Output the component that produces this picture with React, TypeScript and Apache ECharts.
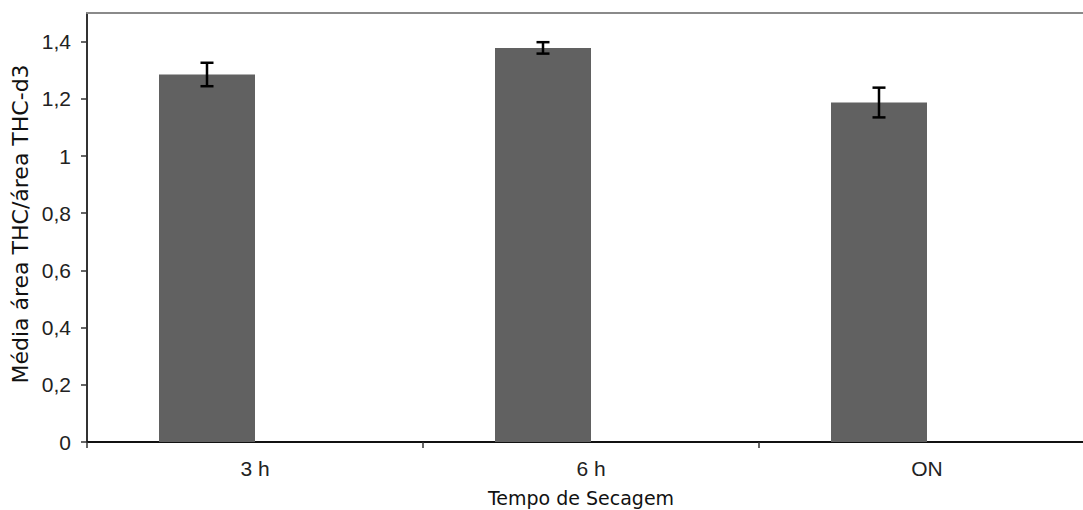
import React, { useEffect, useRef } from "react";
import * as echarts from "echarts";

const categories = ["3 h", "6 h", "ON"];
const means = [1.285, 1.378, 1.187];
const errors = [0.041, 0.02, 0.052];
const emptySeries = ["-", "-", "-"];
const yTitle = "Média área THC/área THC-d3";
const xTitle = "Tempo de Secagem";

const BAR_W = 96;

export default function App() {
  const ref = useRef<HTMLDivElement>(null);
  useEffect(() => {
    const chart = echarts.init(ref.current!, null, { renderer: "svg" });
    const errData = means.map((m, i) => [i, m - errors[i], m + errors[i]]);
    chart.setOption({
      animation: false,
      backgroundColor: "#ffffff",
      grid: { left: 87, right: 0, top: 13, bottom: 68 },
      xAxis: [
        {
          type: "category",
          data: categories,
          boundaryGap: true,
          axisLine: { lineStyle: { color: "#111", width: 2 } },
          axisTick: { show: true, length: 6, lineStyle: { color: "#333", width: 1.5 } },
          axisLabel: {
            color: "#222",
            fontFamily: "Liberation Sans, Arial",
            fontSize: 21,
            margin: 16,
          },
          splitLine: { show: false },
        },
        {
          type: "category",
          data: categories,
          position: "top",
          axisLine: { show: true, lineStyle: { color: "#8a8a8a", width: 2 } },
          axisTick: { show: false },
          axisLabel: { show: false },
        },
      ],
      yAxis: {
        type: "value",
        min: 0,
        max: 1.5,
        interval: 0.2,
        axisLine: { show: true, lineStyle: { color: "#333", width: 2 } },
        axisTick: { show: true, length: 6, lineStyle: { color: "#333", width: 1.5 } },
        splitLine: { show: false },
        axisLabel: {
          showMaxLabel: false,
          color: "#222",
          fontFamily: "Liberation Sans, Arial",
          fontSize: 21,
          margin: 16,
          formatter: (v: number) => {
            if (Math.abs(v - 1.5) < 1e-6) return "";
            const r = Math.round(v * 10) / 10;
            return String(r).replace(".", ",");
          },
        },
      },
      graphic: [
        {
          type: "text",
          x: 581,
          y: 498,
          style: {
            text: xTitle,
            fontFamily: "DejaVu Sans",
            fontSize: 19,
            fill: "#111",
            align: "center",
            verticalAlign: "middle",
          },
        },
        {
          type: "text",
          x: 20,
          y: 224,
          rotation: Math.PI / 2,
          style: {
            text: yTitle,
            fontFamily: "DejaVu Sans",
            fontSize: 22,
            fill: "#111",
            align: "center",
            verticalAlign: "middle",
          },
        },
      ],
      series: [
        {
          type: "bar",
          data: means,
          barWidth: BAR_W,
          barGap: "0%",
          itemStyle: { color: "#616161" },
        },
        {
          type: "bar",
          data: emptySeries,
          barWidth: BAR_W,
          barGap: "0%",
        },
        {
          type: "custom",
          data: errData,
          z: 10,
          renderItem: (params: any, api: any) => {
            const i = api.value(0);
            const lo = api.coord([i, api.value(1)]);
            const hi = api.coord([i, api.value(2)]);
            const x = lo[0] - BAR_W / 2;
            const cap = 6.5;
            const style = { stroke: "#000", lineWidth: 2.5 };
            return {
              type: "group",
              children: [
                { type: "line", shape: { x1: x, y1: lo[1], x2: x, y2: hi[1] }, style },
                { type: "line", shape: { x1: x - cap, y1: lo[1], x2: x + cap, y2: lo[1] }, style },
                { type: "line", shape: { x1: x - cap, y1: hi[1], x2: x + cap, y2: hi[1] }, style },
              ],
            };
          },
        },
      ],
    });
    return () => chart.dispose();
  }, []);
  return (
    <div style={{ position: "fixed", left: 0, top: 0, width: 1083, height: 510, overflow: "hidden" }}>
      <div ref={ref} style={{ width: 1095, height: 510 }} />
    </div>
  );
}
